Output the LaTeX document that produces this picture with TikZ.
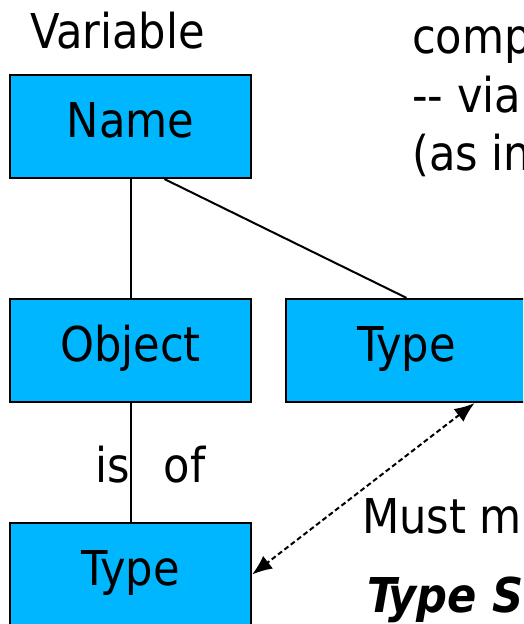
\documentclass[tikz,border=0pt]{standalone}
\usepackage{fontspec}
\setmainfont{DejaVu Sans Condensed}
\usetikzlibrary{arrows.meta}
\definecolor{boxblue}{RGB}{0,183,255}
\begin{document}
\begin{tikzpicture}[x=1pt, y=-1pt,
  every node/.style={font=\fontsize{48}{58}\selectfont},
  box/.style={draw, fill=boxblue, line width=2.2pt, minimum width=241pt, minimum height=103pt,
    inner sep=0pt, text height=36pt, text depth=15pt},
  link/.style={line width=2pt},
  txt/.style={anchor=base west, inner sep=0pt},
  tip/.tip={Latex[length=20pt,width=16pt]}]

\useasboundingbox (0,0) rectangle (523,624);
\clip (0,0) rectangle (523,624);

\node[txt] (var) at (30,48) {Variable};

\node[box] (name) at (130.5,126.5) {Name};
\node[box] (obj) at (130.5,350.5) {Object};
\node[box] (typeR) at (406.5,350.5) {Type};
\node[box] (typeB) at (130.5,574.5) {Type};

\draw[link] (name.south) -- (obj.north);
\draw[link] ([xshift=34pt]name.south) -- (typeR.north);
\draw[link] (obj.south) -- (typeB.north);
\node[txt] (isof) at (95,482) {is\hspace{34pt}of};

\draw[link, tip-tip, dash pattern=on 5pt off 3pt] ([xshift=68pt]typeR.south) -- (typeB.east);

% text on the right, runs off the edge
\node[txt] (l1) at (412,53) {comp};
\node[txt] (l2) at (412,112) {-{}- via};
\node[txt] (l3) at (412,170) {(as in};
\node[txt] (must) at (362,533) {Must m};
\node[txt] (tsafe) at (367,612) {\bfseries\itshape Type S};

\end{tikzpicture}
\end{document}
